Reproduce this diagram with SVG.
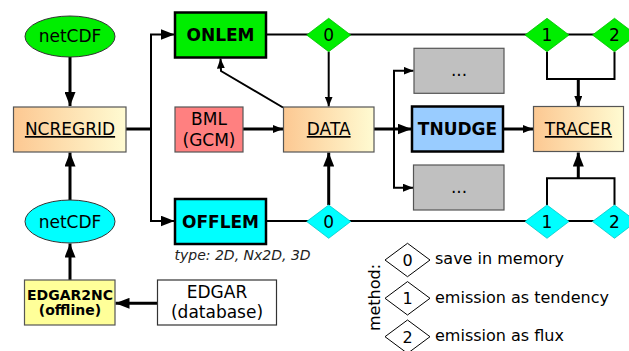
<svg xmlns="http://www.w3.org/2000/svg" width="629" height="351" viewBox="0 0 629 351">
<style>
text{font-family:"DejaVu Sans","Liberation Sans",sans-serif;fill:#000}
.t17{font-size:17px;text-anchor:middle}
.b17{font-size:17px;font-weight:bold;text-anchor:middle}
.b14{font-size:14px;font-weight:bold;text-anchor:middle}
.u{text-decoration:underline}
.dg{font-size:17px;text-anchor:middle}
.lg{font-size:16px}
.thick{fill:none;stroke:#000;stroke-width:3}
.thin{fill:none;stroke:#000;stroke-width:2}
.grad{fill:url(#og);stroke:#555;stroke-width:1.2}
.em{stroke:#000;stroke-width:2.5}
.gr{fill:#00ee00;stroke:#00c000;stroke-width:0.8}
.cy{fill:#00ffff;stroke:#00c8c8;stroke-width:0.8}
.gray{fill:#c0c0c0;stroke:#555;stroke-width:1.2}
.leg{fill:#fff;stroke:#000;stroke-width:1}
</style>
<defs>
<linearGradient id="og" x1="0" y1="0" x2="1" y2="0">
<stop offset="0" stop-color="#fcc892"/>
<stop offset="1" stop-color="#fffbd2"/>
</linearGradient>
<marker id="big" viewBox="0 0 14 11" markerWidth="14" markerHeight="11" refX="14" refY="5.5" orient="auto" markerUnits="userSpaceOnUse"><path d="M0,0 L14,5.5 L0,11 z" fill="#000"/></marker>
<marker id="sm" viewBox="0 0 10 8" markerWidth="10" markerHeight="8" refX="10" refY="4" orient="auto" markerUnits="userSpaceOnUse"><path d="M0,0 L10,4 L0,8 z" fill="#000"/></marker>
</defs>

<g id="connectors">
<path class="thick" d="M70,57 V106" marker-end="url(#big)"/>
<path class="thick" d="M70,200 V152.5" marker-end="url(#big)"/>
<path class="thick" d="M70,280 V243.5" marker-end="url(#big)"/>
<path class="thick" d="M157,303.3 H115.5" marker-end="url(#big)"/>
<path class="thick" d="M126,129 H151"/>
<path class="thin" d="M151,129 V34.5 H174.5" marker-end="url(#big)"/>
<path class="thin" d="M151,129 V221 H174.5" marker-end="url(#big)"/>
<path class="thick" d="M243,129 H283" marker-end="url(#sm)"/>
<path class="thin" d="M283,107.5 L221,71 L220.5,58.5" marker-end="url(#sm)"/>
<path class="thin" d="M266,34.5 H614"/>
<path class="thin" d="M266,221 H614"/>
<path class="thin" d="M328.7,51.7 V106.5" marker-end="url(#sm)"/>
<path class="thick" d="M328.7,205 V152.5" marker-end="url(#big)"/>
<path class="thick" d="M374,129 H411.5" marker-end="url(#big)"/>
<path class="thin" d="M394,129 V70.7 H413.5" marker-end="url(#sm)"/>
<path class="thin" d="M394,129 V187.7 H413" marker-end="url(#sm)"/>
<path class="thick" d="M503,129 H533" marker-end="url(#sm)"/>
<path class="thin" d="M547,51.7 V79 H614.5 V51.7"/>
<path class="thick" d="M578.3,79 V106" marker-end="url(#sm)"/>
<path class="thin" d="M547,205 V178.3 H614.5 V205"/>
<path class="thick" d="M578.3,178.3 V152.5" marker-end="url(#big)"/>
</g>

<g id="netcdf-top"><ellipse cx="70" cy="36.5" rx="45" ry="20.5" fill="#00ee00" stroke="#333" stroke-width="1"/><text class="t17" x="70" y="41.5">netCDF</text></g>
<g id="ncregrid"><rect class="grad" x="13.5" y="107" width="112.5" height="45"/><text class="t17 u" x="70" y="135">NCREGRID</text></g>
<g id="netcdf-bottom"><ellipse cx="70" cy="221.5" rx="45" ry="21.5" fill="#00ffff" stroke="#333" stroke-width="1"/><text class="t17" x="70" y="227.5">netCDF</text></g>
<g id="edgar2nc"><rect x="24.5" y="280" width="90.5" height="45" fill="#ffff99" stroke="#555" stroke-width="1.2"/><text class="b14" x="70" y="300">EDGAR2NC</text><text class="b14" x="70" y="315">(offline)</text></g>
<g id="edgar"><rect x="157.5" y="280" width="119" height="45" fill="#fff" stroke="#333" stroke-width="1.2"/><text class="t17" x="217" y="298.3">EDGAR</text><text class="t17" x="217" y="318">(database)</text></g>
<g id="onlem"><rect class="em" x="175" y="12.5" width="91" height="45" fill="#00ee00"/><text class="b17" x="220.5" y="41">ONLEM</text></g>
<g id="offlem"><rect class="em" x="175" y="199" width="91" height="45" fill="#00ffff"/><text class="b17" x="220.5" y="227.5">OFFLEM</text></g>
<g id="offlem-type"><text x="174.5" y="260" style="font-size:14px;font-style:italic;fill:#222">type: 2D, Nx2D, 3D</text></g>
<g id="bml"><rect x="175" y="107" width="68" height="45" fill="#ff8080" stroke="#555" stroke-width="1.2"/><text class="t17" x="209" y="124.5">BML</text><text class="t17" x="209" y="145.5">(GCM)</text></g>
<g id="data"><rect class="grad" x="283.5" y="107" width="90.5" height="45"/><text class="t17 u" x="328.7" y="135">DATA</text></g>
<g id="gray-top"><rect class="gray" x="414" y="48.3" width="90" height="45"/><text class="t17" x="459" y="76">...</text></g>
<g id="tnudge"><rect class="em" x="412" y="106.5" width="91" height="45" fill="#99ccff"/><text class="b17" x="457.5" y="135">TNUDGE</text></g>
<g id="gray-bottom"><rect class="gray" x="413.5" y="165" width="90.5" height="45"/><text class="t17" x="459" y="192.5">...</text></g>
<g id="tracer"><rect class="grad" x="533.5" y="106.5" width="90" height="45"/><text class="t17 u" x="578.5" y="135">TRACER</text></g>

<g id="d0-green"><polygon class="gr" points="306.7,35 328.7,18.3 350.7,35 328.7,51.7"/><text class="dg" x="328.7" y="41">0</text></g>
<g id="d1-green"><polygon class="gr" points="525,35 547,18.3 569,35 547,51.7"/><text class="dg" x="547" y="41">1</text></g>
<g id="d2-green"><polygon class="gr" points="592.5,35 614.5,18.3 636.5,35 614.5,51.7"/><text class="dg" x="614.5" y="41">2</text></g>
<g id="d0-cyan"><polygon class="cy" points="306.7,221.5 328.7,205 350.7,221.5 328.7,238.3"/><text class="dg" x="328.7" y="227.5">0</text></g>
<g id="d1-cyan"><polygon class="cy" points="525,221.5 547,205 569,221.5 547,238.3"/><text class="dg" x="547" y="227.5">1</text></g>
<g id="d2-cyan"><polygon class="cy" points="592.5,221.5 614.5,205 636.5,221.5 614.5,238.3"/><text class="dg" x="614.5" y="227.5">2</text></g>

<g id="legend">
<text class="lg" transform="translate(380,297.5) rotate(-90)" text-anchor="middle">method:</text>
<polygon class="leg" points="385,260 407.5,243.3 430,260 407.5,276.7"/><text class="lg" x="407.5" y="265.5" text-anchor="middle">0</text>
<polygon class="leg" points="385,298.3 407.5,281.6 430,298.3 407.5,315"/><text class="lg" x="407.5" y="304" text-anchor="middle">1</text>
<polygon class="leg" points="385,336.7 407.5,320 430,336.7 407.5,353.4"/><text class="lg" x="407.5" y="342.5" text-anchor="middle">2</text>
<text class="lg" x="435" y="263.5">save in memory</text>
<text class="lg" x="435" y="302.5">emission as tendency</text>
<text class="lg" x="435" y="341">emission as flux</text>
</g>
</svg>
